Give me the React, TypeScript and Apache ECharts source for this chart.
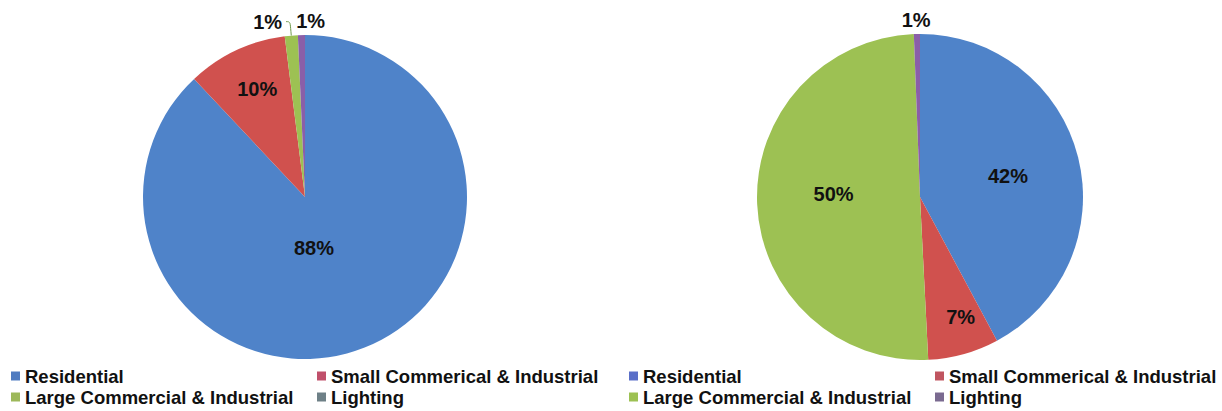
import React, { useEffect, useRef } from "react";
import * as echarts from "echarts";

const categories = [
  "Residential",
  "Small Commerical & Industrial",
  "Large Commercial & Industrial",
  "Lighting",
];
const leftValues = [88, 10, 1.3, 0.7];
const rightValues = [42, 7, 50, 0.6];

const sliceColors = ["#4F83C9", "#D0514E", "#9DC153", "#8A5FA8"];
const leftLegendColors = ["#4F7BC0", "#C0506B", "#9DB85A", "#6E8087"];
const rightLegendColors = ["#5A6FC8", "#C05560", "#9DC153", "#7A6A90"];

// label offsets (dx, dy) relative to ECharts' default label position
const leftOffsets = [[-22, -27], [-12, -32], [1, 0], [29, 0]];
const rightOffsets = [[6, 0], [18, 39], [-2, -7], [19, 0]];

const labelFont = { fontFamily: "Liberation Sans, Arial, sans-serif", fontWeight: "bold" as const, fontSize: 20, color: "#111" };

function pieData(values: number[], outsideIdx: number[], lineIdx: number[]) {
  return categories.map((name, i) => {
    const outside = outsideIdx.includes(i);
    const withLine = lineIdx.includes(i);
    return {
      name,
      value: values[i],
      itemStyle: { color: sliceColors[i] },
      label: { position: outside ? "outside" : "inside" },
      labelLine: {
        show: withLine,
        length: 14,
        length2: withLine ? 4 : 0,
        smooth: 0.4,
        lineStyle: { color: "#6f9a4a", width: 1 },
      },
    };
  });
}

function legend(names: string[], colors: string[], left: number, top: number) {
  return {
    left,
    top,
    orient: "horizontal",
    padding: 0,
    itemGap: 15,
    itemWidth: 9,
    itemHeight: 9,
    icon: "rect",
    selectedMode: false,
    width: 620,
    data: names.map((n, i) => ({
      name: n,
      itemStyle: { color: colors[i] },
      textStyle: i === 0 ? { width: 277 } : {},
    })),
    textStyle: {
      fontFamily: "Liberation Sans, Arial, sans-serif",
      fontWeight: "bold",
      fontSize: 18.5,
      color: "#111",
      lineHeight: 20,
    },
  };
}

export default function App() {
  const ref = useRef<HTMLDivElement>(null);
  useEffect(() => {
    if (!ref.current) return;
    const chart = echarts.init(ref.current, undefined, { renderer: "svg" });
    const mkSeries = (values: number[], center: number[], radius: number, offsets: number[][], outside: number[], lines: number[]) => ({
      type: "pie",
      center,
      radius,
      startAngle: 90,
      clockwise: true,
      avoidLabelOverlap: false,
      itemStyle: { borderWidth: 0 },
      emphasis: { disabled: true },
      label: {
        show: true,
        ...labelFont,
        formatter: (p: any) => Math.round(p.percent) + "%",
      },
      labelLayout: (p: any) => {
        const o = offsets[p.dataIndex];
        return { dx: o[0], dy: o[1] };
      },
      data: pieData(values, outside, lines),
    });
    chart.setOption({
      animation: false,
      backgroundColor: "#ffffff",
      legend: [
        legend([categories[0], categories[1]], [leftLegendColors[0], leftLegendColors[1]], 11, 366),
        legend([categories[2], categories[3]], [leftLegendColors[2], leftLegendColors[3]], 11, 387),
        legend([categories[0], categories[1]], [rightLegendColors[0], rightLegendColors[1]], 629, 366),
        legend([categories[2], categories[3]], [rightLegendColors[2], rightLegendColors[3]], 629, 387),
      ],
      series: [
        mkSeries(leftValues, [305, 197], 162, leftOffsets, [2, 3], [2]),
        mkSeries(rightValues, [920, 197], 163, rightOffsets, [3], []),
      ],
    });
    return () => chart.dispose();
  }, []);
  return <div ref={ref} style={{ position: "absolute", left: 0, top: 0, width: 1222, height: 411 }} />;
}
